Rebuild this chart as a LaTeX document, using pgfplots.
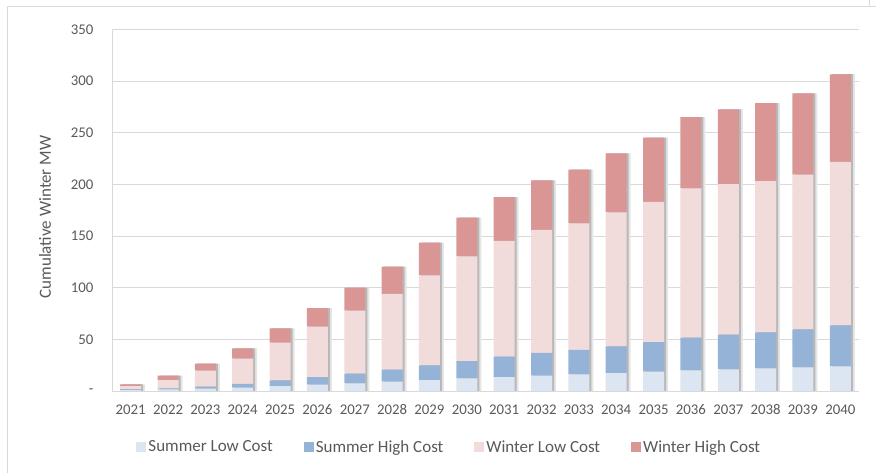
\documentclass[border=0pt]{standalone}
\usepackage{fontspec}
\setmainfont{Carlito}
\usepackage{pgfplots}
\pgfplotsset{compat=1.18}
\usepackage{pgfplotstable}
\definecolor{sl}{HTML}{DCE6F2}
\definecolor{sh}{HTML}{95B3D7}
\definecolor{wl}{HTML}{F2DCDB}
\definecolor{wh}{HTML}{D99694}
\definecolor{gridc}{HTML}{D9D9D9}
\definecolor{framec}{HTML}{D9D9D9}
\definecolor{txt}{HTML}{595959}
\pgfplotstableread{
x SL SH WL WH T
0 1.0 0.8 3.0 1.7 6.5
1 1.6 1.0 8.0 4.2 14.8
2 2.3 1.9 15.5 6.8 26.5
3 3.2 3.6 24.5 10.0 41.3
4 4.8 5.5 36.5 13.8 60.6
5 6.1 7.4 48.8 18.0 80.3
6 7.4 9.4 60.9 22.3 100.0
7 9.0 11.6 73.3 26.4 120.3
8 10.6 14.2 87.2 31.5 143.5
9 12.3 16.7 101.3 37.4 167.7
10 13.5 19.7 112.0 42.5 187.7
11 14.8 22.0 119.0 48.1 203.9
12 16.1 23.6 122.6 51.9 214.2
13 17.4 25.8 129.7 57.1 230.0
14 18.7 28.7 135.5 62.3 245.2
15 20.0 31.6 144.5 68.9 265.0
16 21.0 33.5 145.8 72.2 272.5
17 21.9 34.9 146.4 75.3 278.5
18 22.9 36.8 149.7 78.6 288.0
19 23.9 39.6 158.1 84.9 306.5
}\data
\begin{document}
\begin{tikzpicture}[x=1pt,y=1pt]
\useasboundingbox (0,0) rectangle (876,473);
\draw[line width=1pt, color=framec] (7,0) -- (7,466) -- (876,466);
\draw[line width=1pt, color=framec] (869,466) -- (869,473);
\begin{axis}[
  at={(112pt,82pt)}, anchor=south west, scale only axis,
  width=747pt, height=361.7pt,
  xmin=-0.5, xmax=19.5, ymin=0, ymax=350,
  ytick={0,50,...,350}, xtick=\empty, yticklabels={},
  tick style={draw=none}, axis line style={draw=none},
  ymajorgrids, grid style={gridc, line width=0.8pt},
  ybar, bar width=21pt]
\addplot[fill=black!10, draw=none, bar shift=4pt] table[x=x,y=T]{\data};
\addplot[fill=black!28, draw=none, bar shift=2pt] table[x=x,y=T]{\data};
\end{axis}
\begin{axis}[
  at={(112pt,82pt)}, anchor=south west, scale only axis,
  width=747pt, height=361.7pt,
  xmin=-0.5, xmax=19.5, ymin=0, ymax=350,
  ybar stacked, bar width=21pt,
  axis on top,
  axis x line*=bottom, axis y line*=left,
  axis line style={gridc, line width=0.8pt},
  tick style={draw=none},
  xtick={0,...,19},
  xticklabels={2021,2022,2023,2024,2025,2026,2027,2028,2029,2030,2031,2032,2033,2034,2035,2036,2037,2038,2039,2040},
  ytick={0,50,...,350},
  yticklabels={{-\hspace{3pt}},50,100,150,200,250,300,350},
  ticklabel style={font=\fontsize{14.8}{16}\selectfont, text=txt},
  xticklabel style={yshift=-10pt},
  yticklabel style={xshift=-15pt},
  ylabel={Cumulative Winter MW},
  ylabel style={at={(axis description cs:-0.0897,0.481)}, anchor=center, font=\fontsize{17}{20}\selectfont, text=txt},
  legend style={at={(axis description cs:0.4516,-0.1547)}, anchor=center, draw=none, fill=none,
    legend columns=4, font=\fontsize{17}{20}\selectfont, text=txt,
    /tikz/every even column/.append style={column sep=29pt}},
  legend image code/.code={\fill[#1] (0pt,-5pt) rectangle (10pt,5pt);},
]
\addplot[fill=sl, draw=none] table[x=x,y=SL]{\data};
\addplot[fill=sh, draw=none] table[x=x,y=SH]{\data};
\addplot[fill=wl, draw=none] table[x=x,y=WL]{\data};
\addplot[fill=wh, draw=none] table[x=x,y=WH]{\data};
\legend{Summer Low Cost, Summer High Cost, Winter Low Cost, Winter High Cost}
\end{axis}
\end{tikzpicture}
\end{document}
